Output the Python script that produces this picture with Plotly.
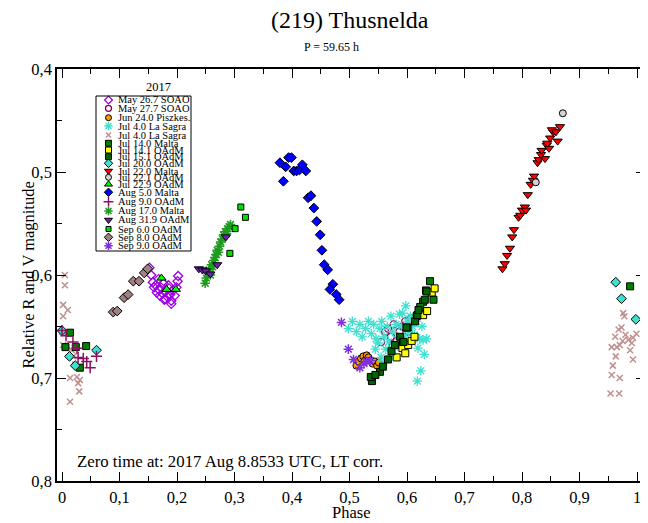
import plotly.graph_objects as go

# ---------------- data (phase, relative magnitude) ----------------
may26_ph = [0.152,0.155,0.158,0.160,0.163,0.165,0.168,0.170,0.172,0.175,0.178,0.180,0.183,0.186,0.188,0.190,0.193,0.196,0.199,0.201,0.202,0.190,0.185,0.176,0.168,0.179]
may26_mg = [0.593,0.600,0.607,0.612,0.610,0.617,0.614,0.620,0.612,0.618,0.624,0.616,0.621,0.613,0.619,0.625,0.615,0.620,0.612,0.606,0.601,0.628,0.610,0.608,0.604,0.623]

may27_ph = [0.562,0.567,0.572,0.577,0.582,0.587,0.592,0.597,0.602,0.607,0.575,0.555]
may27_mg = [0.655,0.652,0.660,0.648,0.664,0.655,0.650,0.645,0.655,0.642,0.668,0.665]

jun24_ph = [0.512,0.516,0.520,0.524,0.527,0.530,0.533,0.537,0.540,0.544,0.548,0.551]
jun24_mg = [0.688,0.684,0.681,0.679,0.683,0.678,0.680,0.683,0.686,0.684,0.688,0.685]

jul4a_ph = [0.498,0.505,0.512,0.518,0.522,0.528,0.533,0.538,0.542,0.546,0.550,0.553,0.556,0.560,0.563,0.566,0.568,0.572,0.575,0.578,0.581,0.584,0.587,0.590,0.592,0.595,0.598,0.600,0.603,0.606,0.610,0.613,0.616,0.619,0.622,0.626,0.628,0.630,0.634,0.624,0.618,0.555,0.545,0.560,0.575]
jul4a_mg = [0.652,0.645,0.655,0.648,0.660,0.652,0.645,0.657,0.648,0.662,0.666,0.652,0.645,0.660,0.672,0.650,0.665,0.640,0.655,0.670,0.648,0.660,0.638,0.650,0.637,0.660,0.630,0.645,0.655,0.640,0.650,0.658,0.645,0.671,0.662,0.650,0.663,0.677,0.662,0.693,0.703,0.680,0.672,0.685,0.678]

jul4b_ph = [0.005,0.005,0.002,0.010,0.002,0.000,0.002,0.017,0.020,0.023,0.014,0.026,0.031,0.028,0.030,0.014,
            0.976,0.978,0.973,0.968,0.962,0.956,0.965,0.970,0.985,0.991,0.993,0.999,0.988,0.963,0.993,0.958,0.956,0.970,0.954,0.969,0.980,0.975]
jul4b_mg = [0.600,0.610,0.629,0.634,0.640,0.655,0.668,0.673,0.679,0.687,0.700,0.699,0.702,0.705,0.713,0.723,
            0.637,0.640,0.651,0.653,0.660,0.670,0.670,0.668,0.663,0.666,0.661,0.657,0.673,0.679,0.682,0.688,0.697,0.700,0.715,0.715,0.658,0.664]

jul14_ph = [0.014,0.006,0.024,0.042,0.031,0.988,0.640,0.646,0.633,0.628,0.623]
jul14_mg = [0.656,0.670,0.670,0.669,0.690,0.611,0.606,0.624,0.615,0.626,0.631]

jul141_ph = [0.582,0.592,0.597,0.602,0.608,0.613,0.617,0.628,0.635,0.643,0.648]
jul141_mg = [0.680,0.671,0.676,0.668,0.664,0.660,0.640,0.639,0.635,0.617,0.613]

jul15_ph = [0.539,0.537,0.553,0.558,0.567,0.573,0.579,0.588,0.593,0.601,0.614,0.618,0.620,0.631,0.634,0.594,0.599,0.545]
jul15_mg = [0.703,0.699,0.694,0.689,0.682,0.674,0.668,0.660,0.665,0.651,0.645,0.639,0.634,0.624,0.616,0.665,0.651,0.697]

jul20_ph = [0.000,0.013,0.023,0.060,0.963,0.973,0.998]
jul20_mg = [0.654,0.679,0.688,0.673,0.607,0.623,0.643]

jul22_ph = [0.766,0.770,0.774,0.779,0.783,0.786,0.794,0.797,0.800,0.805,0.807,0.810,0.815,0.819,0.821,0.827,0.829,0.840,0.833,0.834,0.843,0.847,0.844,0.849,0.854,0.852,0.859,0.862,0.866]
jul22_mg = [0.594,0.589,0.581,0.574,0.563,0.556,0.544,0.542,0.537,0.534,0.537,0.522,0.512,0.508,0.504,0.491,0.488,0.487,0.483,0.479,0.474,0.477,0.472,0.467,0.461,0.459,0.461,0.470,0.456]

jul221_ph = [0.871,0.824]
jul221_mg = [0.443,0.510]

jul229_ph = [0.173,0.182,0.198]
jul229_mg = [0.603,0.614,0.614]

aug5_ph = [0.394,0.399,0.379,0.389,0.385,0.403,0.408,0.413,0.418,0.424,0.428,0.433,0.438,0.443,0.449,0.452,0.456,0.462,0.471,0.466,0.477,0.482]
aug5_mg = [0.486,0.486,0.491,0.495,0.509,0.499,0.499,0.498,0.493,0.499,0.525,0.523,0.535,0.548,0.561,0.576,0.590,0.595,0.609,0.614,0.619,0.624]

aug9_ph = [0.000,0.007,0.019,0.026,0.028,0.037,0.043,0.049,0.060]
aug9_mg = [0.654,0.659,0.665,0.671,0.680,0.681,0.684,0.690,0.679]

aug17_ph = [0.249,0.251,0.253,0.256,0.258,0.260,0.262,0.264,0.266,0.268,0.270,0.272,0.274,0.276,0.279,0.281,0.284,0.286,0.288,0.291,0.293]
aug17_mg = [0.608,0.603,0.598,0.595,0.600,0.590,0.592,0.586,0.583,0.580,0.576,0.578,0.572,0.568,0.565,0.561,0.558,0.560,0.555,0.553,0.551]

aug31_ph = [0.238,0.244,0.250,0.258,0.270,0.285]
aug31_mg = [0.594,0.595,0.596,0.599,0.590,0.563]

sep6_ph = [0.311,0.319,0.301,0.292]
sep6_mg = [0.534,0.544,0.555,0.579]

sep8_ph = [0.089,0.096,0.108,0.115,0.124,0.134,0.143,0.149]
sep8_mg = [0.636,0.635,0.622,0.619,0.606,0.606,0.598,0.594]

sep9_ph = [0.486,0.498,0.507,0.518,0.525,0.530,0.536]
sep9_mg = [0.646,0.672,0.682,0.690,0.686,0.684,0.683]

FONT = "Liberation Serif, Times New Roman, serif"

def mk(symbol, color, size, line_color="black", lw=1):
    return dict(symbol=symbol, color=color, size=size, line=dict(color=line_color, width=lw))

series = [
    ("May 26.7 SOAO", may26_ph, may26_mg, mk("diamond-open", "#9B00E0", 7, "#9B00E0", 1.3)),
    ("May 27.7 SOAO", may27_ph, may27_mg, mk("circle-open", "#8B005A", 7, "#8B005A", 1.3)),
    ("Jun 24.0 Piszkes.", jun24_ph, jun24_mg, mk("circle", "#FF9900", 7)),
    ("Jul 4.0 La Sagra", jul4a_ph, jul4a_mg, mk("asterisk-open", "#40E0D0", 8, "#40E0D0", 1.3)),
    ("Jul 4.0 La Sagra", jul4b_ph, jul4b_mg, mk("x-thin-open", "#C09090", 6, "#C09090", 1.5)),
    ("Jul 14.0 Malta", jul14_ph, jul14_mg, mk("square", "#008000", 7)),
    ("Jul 14.1 OAdM", jul141_ph, jul141_mg, mk("square", "#FFFF00", 7)),
    ("Jul 15.1 OAdM", jul15_ph, jul15_mg, mk("square", "#006400", 7)),
    ("Jul 20.0 OAdM", jul20_ph, jul20_mg, mk("diamond", "#40E0D0", 7.5)),
    ("Jul 22.0 Malta", jul22_ph, jul22_mg, mk("triangle-down", "#FF0000", 8)),
    ("Jul 22.1 OAdM", jul221_ph, jul221_mg, mk("circle", "#D3D3D3", 7)),
    ("Jul 22.9 OAdM", jul229_ph, jul229_mg, mk("triangle-up", "#00FF00", 8)),
    ("Aug 5.0 Malta", aug5_ph, aug5_mg, mk("diamond", "#0000FF", 7.5)),
    ("Aug 9.0 OAdM", aug9_ph, aug9_mg, mk("cross-thin-open", "#8B1060", 8, "#8B1060", 1.5)),
    ("Aug 17.0 Malta", aug17_ph, aug17_mg, mk("asterisk-open", "#1E9A1E", 8, "#1E9A1E", 1.5)),
    ("Aug 31.9 OAdM", aug31_ph, aug31_mg, mk("triangle-down", "#7020B0", 8)),
    ("Sep 6.0 OAdM", sep6_ph, sep6_mg, mk("square", "#00E000", 6)),
    ("Sep 8.0 OAdM", sep8_ph, sep8_mg, mk("diamond", "#A08080", 7.5)),
    ("Sep 9.0 OAdM", sep9_ph, sep9_mg, mk("asterisk-open", "#8030E0", 8, "#8030E0", 1.5)),
]

fig = go.Figure()
for name, ph, mg, marker in series:
    fig.add_trace(go.Scatter(x=ph, y=mg, mode="markers", marker=marker, name=name,
                             showlegend=False, xaxis="x", yaxis="y"))

# ---- page geometry (page has an 8px body margin; figure is shrunk to fit) ----
PAGE_W, PAGE_H, OFF = 648, 523, 8
W, H = PAGE_W - OFF, PAGE_H - OFF
PL, PR, PT, PB = 57, 645, 69, 481          # plot frame in page pixels
L, R, T, B = PL - OFF, W - (PR - OFF), PT - OFF, H - (PB - OFF)

def px(x):   # page x pixel -> paper fraction
    return (x - PL) / (PR - PL)

def py(y):   # page y pixel -> paper fraction
    return (PB - y) / (PB - PT)

# ---- custom compact legend drawn on an overlay axis in page-pixel units ----
legend_y = [100, 108.3, 117.7, 126, 135, 143.3, 150, 156.7, 163.3, 171, 177.3, 184.3,
            192.3, 201.7, 211, 220, 229, 237.3, 245.7]
for (name, ph, mg, marker), yy in zip(series, legend_y):
    m = dict(marker)
    m["size"] = max(5, marker["size"] - 1)
    fig.add_trace(go.Scatter(x=[108.5], y=[yy], mode="markers", marker=m,
                             showlegend=False, xaxis="x2", yaxis="y2", hoverinfo="skip"))
    fig.add_annotation(x=px(116), y=py(yy), xref="paper", yref="paper", text=name, showarrow=False,
                       xanchor="left", yanchor="middle", font=dict(family=FONT, size=10.5, color="black"))
fig.add_shape(type="rect", xref="x2", yref="y2", x0=96, x1=191, y0=96, y1=251,
              line=dict(color="black", width=1))

def note(x, y, text, size, **kw):
    fig.add_annotation(x=px(x), y=py(y), xref="paper", yref="paper", text=text, showarrow=False,
                       yanchor="middle", font=dict(family=FONT, size=size, color="black"), **kw)

note(143.5, 87, "2017", 12.5)
note(75, 461, "Zero time at: 2017 Aug 8.8533 UTC, LT corr.", 16.8, xanchor="left")
note(350, 20, "(219) Thusnelda", 24)
note(331, 47.5, "P = 59.65 h", 12)
note(351, 512, "Phase", 16.5)
note(16, 275, "Relative R and V magnitude", 16.5, textangle=-90)

minor = dict(dtick=0.05, ticks="inside", ticklen=5, tickwidth=1, tickcolor="black")
axis_common = dict(showgrid=False, zeroline=False, showline=True, linecolor="black", linewidth=1.5,
                   ticks="inside", ticklen=9, tickwidth=1, tickcolor="black", mirror="ticks",
                   tickfont=dict(family=FONT, size=16.5, color="black"), minor=minor)

fig.update_layout(
    width=W, height=H,
    margin=dict(l=L, r=R, t=T, b=B, autoexpand=False),
    paper_bgcolor="white", plot_bgcolor="white",
    separators=", ",
    font=dict(family=FONT, color="black"),
    xaxis=dict(range=[-0.0087, 1.0139], dtick=0.1, tick0=0, **axis_common),
    yaxis=dict(range=[0.8, 0.4], dtick=0.1, tick0=0.4, **axis_common),
    xaxis2=dict(overlaying="x", range=[PL, PR], visible=False, fixedrange=True),
    yaxis2=dict(overlaying="y", range=[PB, PT], visible=False, fixedrange=True),
)

fig.write_html("out.html")
